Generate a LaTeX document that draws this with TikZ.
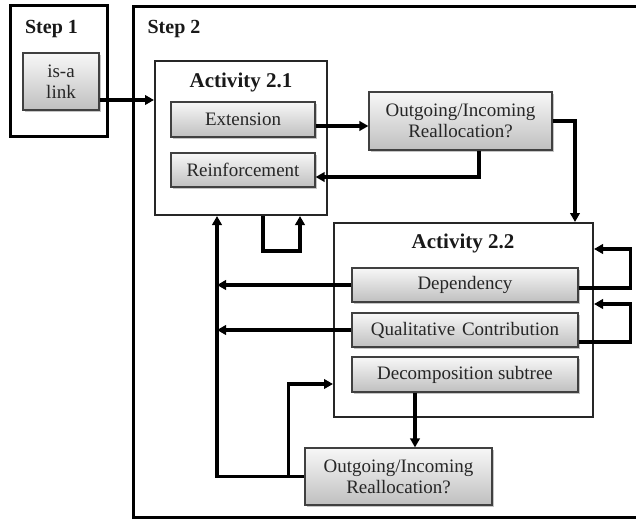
\documentclass[tikz,border=0pt]{standalone}
\usepackage{fontspec}
\setmainfont{Liberation Serif}
\usetikzlibrary{arrows.meta,shadows,calc}

\tikzset{
  frame/.style={draw=black, line width=3pt, fill=none},
  actbox/.style={draw=black!85, line width=2pt, fill=white},
  gbox/.style={draw=black!75, line width=1.2pt, top color=black!3, bottom color=black!25,
    drop shadow={shadow xshift=1.6pt, shadow yshift=-1.6pt, fill=black!45},
    align=center, inner sep=0pt, text=black!85, font=\fontsize{19}{21}\selectfont},
  title/.style={font=\fontsize{21}{23}\selectfont\bfseries, text=black!90},
  arr/.style={draw=black, line width=3.2pt, -{Triangle[length=9pt,width=9.5pt]}},
  wire/.style={draw=black, line width=3.2pt}
}

\begin{document}
\begin{tikzpicture}[x=1pt, y=-1pt]
\useasboundingbox (0,0) rectangle (636,519);

% outer step frames
\node[frame, minimum width=97pt, minimum height=130pt, inner sep=0pt] (step1) at (58.5,71) {};
\draw[line width=3pt] (645,6.5) -- (133,6.5) -- (133,517) -- (645,517);
\coordinate (step2) at (133,6.5);
\node[title, font=\fontsize{20}{22}\selectfont\bfseries] (s1label) at (51.5,29) {Step 1};
\node[title, font=\fontsize{20}{22}\selectfont\bfseries] (s2label) at (174,29) {Step 2};

% activity containers
\node[actbox, minimum width=172pt, minimum height=154pt, inner sep=0pt] (act21) at (241,138) {};
\node[actbox, minimum width=259pt, minimum height=194pt, inner sep=0pt] (act22) at (463.5,320) {};
\node[title] (a21label) at (241,82) {Activity 2.1};
\node[title] (a22label) at (463,243) {Activity 2.2};

% grey process boxes
\node[gbox, minimum width=76pt, minimum height=57pt] (isa) at (61,81.5) {is-a\\link};
\node[gbox, minimum width=144pt, minimum height=35pt] (ext) at (243,119.5) {Extension};
\node[gbox, minimum width=144pt, minimum height=34pt] (reinf) at (243,170) {Reinforcement};
\node[gbox, minimum width=183pt, minimum height=58pt] (out1) at (460.5,121) {Outgoing/Incoming\\Reallocation?};
\node[gbox, minimum width=226pt, minimum height=34pt] (dep) at (465,285) {Dependency};
\node[gbox, minimum width=226pt, minimum height=34pt] (qual) at (465,330) {Qualitative\hspace{2pt} Contribution};
\node[gbox, minimum width=226pt, minimum height=35pt] (decomp) at (465,374.5) {Decomposition subtree};
\node[gbox, minimum width=187pt, minimum height=57pt] (out2) at (398.5,476.5) {Outgoing/Incoming\\Reallocation?};

% connectors
\draw[arr] ([yshift=-18.5pt]isa.east) coordinate (p1) -- (p1 -| act21.west);
\draw[arr] ([yshift=-6.5pt]ext.east) coordinate (p2) -- (p2 -| out1.west);
\draw[arr] ([xshift=18.5pt]out1.south) |- ([yshift=-7pt]reinf.east);
\draw[arr] (out1.east) -| ([xshift=111.5pt]act22.north);
\draw[arr] ([xshift=22pt]act21.south) -- ++(0,35) -| ([xshift=59pt]act21.south);

% return bus on the left
\coordinate (bus) at ([xshift=-24pt]act21.south);
\draw[arr] (out2.west) -| (bus);
\draw[arr] (dep.west) -- (dep.west -| bus);
\draw[arr] (qual.west) -- (qual.west -| bus);
\draw[arr] ([xshift=-16pt]out2.west) |- ([yshift=-64pt]act22.west);

\draw[arr] ([xshift=-50pt]decomp.south) coordinate (p9) -- (p9 |- out2.north);

% self loops on the right
\draw[arr] ([yshift=-3pt]dep.east) -- ++(52,0) |- ([yshift=71pt]act22.east);
\draw[arr] ([yshift=-12pt]qual.east) -- ++(52,0) |- ([yshift=16pt]act22.east);
\end{tikzpicture}
\end{document}
